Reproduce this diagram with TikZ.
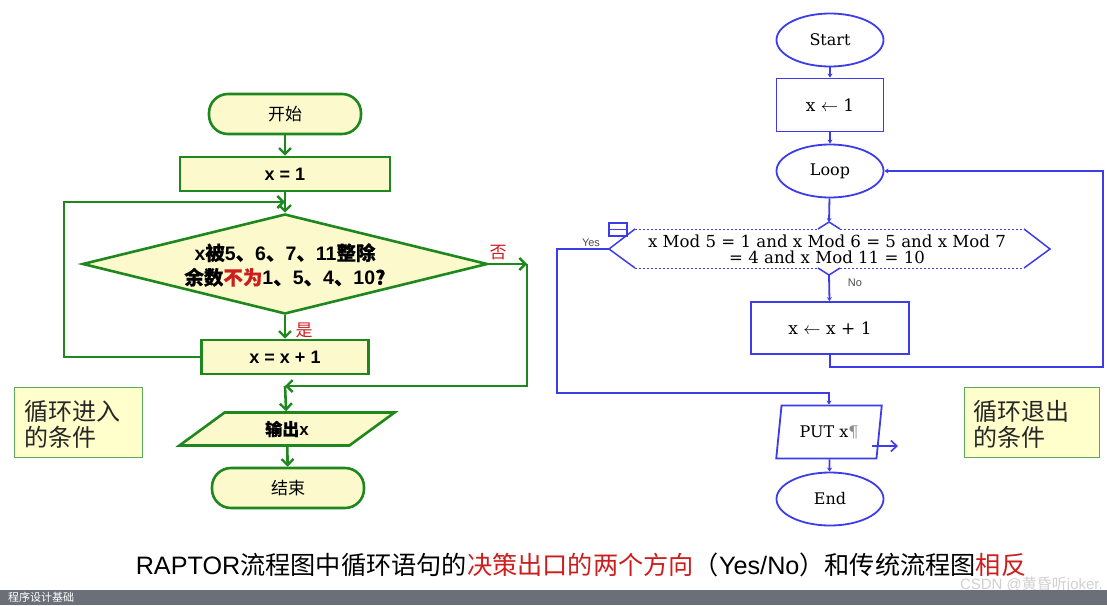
\documentclass[tikz,border=0pt]{standalone}
\usepackage{fontspec}
\setmainfont{Liberation Sans}
\newfontfamily\cjk{Noto Sans CJK SC}
\newfontfamily\cjkb[FakeBold=0.4]{Noto Sans CJK SC}
\newfontfamily\rser{DejaVu Serif}
\usetikzlibrary{arrows.meta,shapes.geometric}
\definecolor{gr}{RGB}{30,135,30}
\definecolor{ly}{RGB}{252,250,205}
\definecolor{cly}{RGB}{255,255,204}
\definecolor{cgr}{RGB}{90,170,90}
\definecolor{bl}{RGB}{60,60,235}
\definecolor{rd}{RGB}{205,30,30}
\definecolor{bar}{RGB}{107,112,120}
\newcommand\zh[1]{{\cjk #1}}
\newcommand\zhb[1]{{\cjkb #1}}
\newcommand\fs[1]{\fontsize{#1}{#1}\selectfont}
\begin{document}
\begin{tikzpicture}[x=1pt,y=-1pt,
  g/.style={draw=gr, line width=2.6pt, fill=ly, inner sep=0pt},
  gterm/.style={g, rounded corners=19pt, minimum width=152pt, minimum height=40pt, font=\fs{17}\cjk},
  gbox/.style={g, minimum height=34pt, font=\fs{18}\bfseries},
  garr/.style={draw=gr, line width=2.6pt, -{Straight Barb[length=6pt,width=12pt,line width=2.4pt]}},
  gline/.style={draw=gr, line width=2.6pt},
  lbl/.style={font=\fs{17}\cjk, text=rd, inner sep=0pt},
  note/.style={draw=cgr, line width=1pt, fill=cly, minimum width=128pt, minimum height=70pt, inner sep=0pt},
  notetxt/.style={font=\fs{24}\cjk, align=left, inner sep=0pt, text=black!85},
  b/.style={draw=bl, line width=1.8pt, inner sep=0pt, font=\fs{16}\rser},
  bell/.style={b, ellipse, minimum width=107pt, minimum height=53pt},
  barr/.style={draw=bl, line width=1.8pt, -{Stealth[length=4pt,width=5pt]}},
  bline/.style={draw=bl, line width=1.8pt},
  bopen/.style={draw=bl, line width=1.6pt, -{Straight Barb[length=6pt,width=11pt,line width=1.6pt]}},
  small/.style={font=\fs{11}, text=black!70, inner sep=0pt}
]
\useasboundingbox (0,0) rectangle (1107,605);
\fill[white] (0,0) rectangle (1107,605);

% ---------------- left flowchart ----------------
\node[gterm] (st) at (285,114) {开始};
\node[gbox, minimum width=210pt] (x1) at (285,174) {x = 1};
\node[g, diamond, minimum width=405pt, minimum height=100pt] (dia) at (285,264) {};
\node[align=center, inner sep=0pt, font=\fs{19.5}\bfseries] (diat) at (285,265)
  {x\zhb{被}5\zhb{、}6\zhb{、}7\zhb{、}11\zhb{整除}\\[5pt]
   \zhb{余数}\textcolor{rd}{\zhb{不为}}1\zhb{、}5\zhb{、}4\zhb{、}10\zhb{?}};
\node[gbox, minimum width=167pt] (inc) at (285,357) {x = x + 1};
\node[g, trapezium, trapezium left angle=46, trapezium right angle=134,
      trapezium stretches=true, minimum width=216pt, minimum height=33pt,
      font=\fs{17}\bfseries] (outp) at (287,429) {\zhb{输出}x};
\node[gterm] (en) at (288,488) {结束};

\coordinate (lc) at (64,202);
\coordinate (j1) at (285,202);
\coordinate (c1) at (527,264);
\coordinate (j2) at (285,386);

\draw[garr] (st) -- (x1);
\draw[garr] (x1) -- (dia);
\draw[garr] (inc.west) -| (lc) -- (j1);
\draw[garr] (dia) -- (inc);
\draw[garr] (dia.east) -- (c1);
\draw[garr] (c1) |- (j2);
\draw[garr] (j2) -- (outp);
\draw[garr] (outp) -- (en);

\node[lbl] (no) at (498,253) {否};
\node[lbl] (yes) at (304,330) {是};

\node[note] (n1) at (78,422) {};
\node[notetxt, anchor=west] (n1t) at (24,424) {循环进入\\[2pt]的条件};

% ---------------- right flowchart ----------------
\node[bell] (rs) at (830,40) {Start};
\node[b, minimum width=107pt, minimum height=53pt, font=\fs{17}\rser] (r1) at (830,105) {\raisebox{-4pt}{x $\leftarrow$ 1}};
\node[bell] (lp) at (830,171) {Loop};

% decision shape
\coordinate (dN) at (829,222);
\coordinate (dS) at (829,275);
\coordinate (dW) at (609,249);
\coordinate (dE) at (1050,249);
\draw[bl, line width=1pt, dash pattern=on 2pt off 2pt] (635,229) -- (818,229) (840,229) -- (1024,229);
\draw[bl, line width=1pt, dash pattern=on 2pt off 2pt] (635,268) -- (818,268) (840,268) -- (1024,268);
\draw[bline, line width=1.5pt] (635,229) -- (dW) -- (635,268);
\draw[bline, line width=1.5pt] (1024,229) -- (dE) -- (1024,268);
\draw[bline, line width=1.5pt] (818,229) -- (dN) -- (840,229);
\draw[bline, line width=1.5pt] (818,268) -- (dS) -- (840,268);
\node[align=center, inner sep=0pt, font=\fs{16.6}\rser] (dt) at (827,249.5)
  {x Mod 5 = 1 and x Mod 6 = 5 and x Mod 7\\[0pt] = 4 and x Mod 11 = 10};
\node[draw=bl, line width=1.6pt, minimum width=18pt, minimum height=13pt, inner sep=0pt] (icon) at (618,229.5) {};
\draw[bl, line width=1.6pt] (icon.west) -- (icon.east);
\node[small] (ylab) at (591,243) {Yes};
\node[small] (nlab) at (855,283) {No};

\node[b, minimum width=158pt, minimum height=52pt, font=\fs{17}\rser] (rinc) at (830,328) {\raisebox{-4pt}{x $\leftarrow$ x + 1}};
\node[b, trapezium, trapezium left angle=76, trapezium right angle=104,
      trapezium stretches=true, minimum width=106pt, minimum height=53pt] (put) at (829,432)
      {PUT x\textcolor{black!45}{¶}};
\node[bell] (ren) at (830,499) {End};

\coordinate (r2) at (1103,367);
\coordinate (y1) at (557,393);
\coordinate (pi) at (872,446);
\coordinate (po) at (898,446);

\draw[barr] (rs) -- (r1);
\draw[barr] (r1) -- (lp);
\draw[barr] (lp) -- (dN);
\draw[barr] (dS) -- (rinc);
\draw[barr] (rinc.south) |- (r2) |- (lp.east);
\draw[barr] (dW) -| (y1) -| (put.north);
\draw[barr] (put) -- (ren);
\draw[bopen] (pi) -- (po);

\node[note, minimum width=135pt] (n2) at (1032,422) {};
\node[notetxt, anchor=west] (n2t) at (973,424) {循环退出\\[2pt]的条件};

% ---------------- caption ----------------
\node[inner sep=0pt, font=\fs{25.2}] (cap) at (581,565)
  {RAPTOR\zh{流程图中循环语句的}\textcolor{rd}{\zh{决策出口的两个方向}}\zh{（}Yes/No\zh{）和传统流程图}\textcolor{rd}{\zh{相反}}};
\node[inner sep=0pt, font=\fs{15}, text=black!18, anchor=east] (wm) at (1103,585) {CSDN @\zh{黄昏听}joker.};

\fill[bar] (0,590) rectangle (1107,605);
\node[inner sep=0pt, font=\fs{11}\cjk, text=white, anchor=west] (bt) at (8,597.5) {程序设计基础};
\end{tikzpicture}
\end{document}
